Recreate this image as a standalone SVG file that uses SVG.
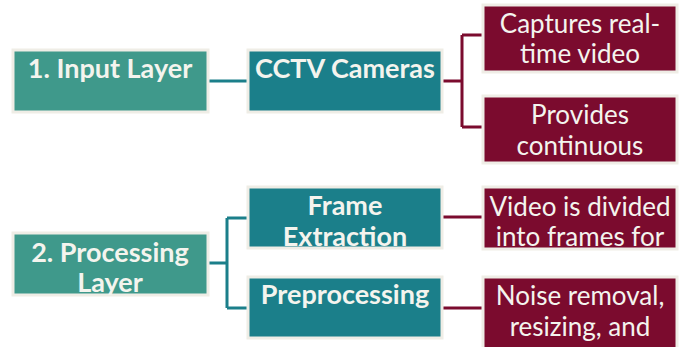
<svg xmlns="http://www.w3.org/2000/svg" width="685" height="347" viewBox="0 0 685 347">
  <style>
    .box { stroke: #efede6; stroke-width: 3; }
    .lvl { fill: #3f998b; }
    .sub { fill: #1b7f8a; }
    .det { fill: #7b0b2e; }
    .tb { font-family: Lato, "Open Sans", sans-serif; font-weight: bold; font-size: 27px; fill: #f4f4ee; text-anchor: middle; }
    .tr { font-family: Lato, "Open Sans", sans-serif; font-size: 26px; fill: #f4f4ee; text-anchor: middle; }
    .ct { fill: none; stroke: #1b7f8a; stroke-width: 3; }
    .cm { fill: none; stroke: #7b0b2e; stroke-width: 3; }
  </style>
  <defs>
    <clipPath id="c-input"><rect x="13" y="50" width="195" height="62"/></clipPath>
    <clipPath id="c-cctv"><rect x="248" y="50" width="194" height="62"/></clipPath>
    <clipPath id="c-cap"><rect x="483" y="5" width="194" height="67"/></clipPath>
    <clipPath id="c-prov"><rect x="483" y="96" width="194" height="67"/></clipPath>
    <clipPath id="c-proc"><rect x="13" y="233" width="195" height="62"/></clipPath>
    <clipPath id="c-frame"><rect x="248" y="187" width="194" height="61"/></clipPath>
    <clipPath id="c-pre"><rect x="248" y="277" width="194" height="61"/></clipPath>
    <clipPath id="c-vid"><rect x="483" y="187" width="194" height="62"/></clipPath>
    <clipPath id="c-noise"><rect x="483" y="277" width="194" height="72"/></clipPath>
  </defs>
  <rect width="685" height="347" fill="#ffffff"/>

  <g id="connectors">
    <path class="ct" d="M207 81 H248"/>
    <path class="cm" d="M442 81 H462 M462 35 V127 M462 35 H483 M462 127 H483"/>
    <path class="ct" d="M208 263 H227 M227 218 V308 M227 218 H248 M227 308 H248"/>
    <path class="cm" d="M442 217 H483 M442 308 H483"/>
  </g>

  <g id="input-layer">
    <rect class="box lvl" x="13" y="50" width="195" height="62"/>
    <g clip-path="url(#c-input)"><text class="tb" x="110" y="78">1. Input Layer</text></g>
  </g>
  <g id="cctv-cameras">
    <rect class="box sub" x="248" y="50" width="194" height="62"/>
    <g clip-path="url(#c-cctv)"><text class="tb" x="345" y="78">CCTV Cameras</text></g>
  </g>
  <g id="captures">
    <rect class="box det" x="483" y="5" width="194" height="67"/>
    <g clip-path="url(#c-cap)"><text class="tr" x="580" y="33">Captures real-</text><text class="tr" x="580" y="63">time video</text></g>
  </g>
  <g id="provides">
    <rect class="box det" x="483" y="96" width="194" height="67"/>
    <g clip-path="url(#c-prov)"><text class="tr" x="580" y="124">Provides</text><text class="tr" x="580" y="155">continuous</text></g>
  </g>
  <g id="processing-layer">
    <rect class="box lvl" x="13" y="233" width="195" height="62"/>
    <g clip-path="url(#c-proc)"><text class="tb" x="110" y="262">2. Processing</text><text class="tb" x="110" y="292">Layer</text></g>
  </g>
  <g id="frame-extraction">
    <rect class="box sub" x="248" y="187" width="194" height="61"/>
    <g clip-path="url(#c-frame)"><text class="tb" x="345" y="215">Frame</text><text class="tb" x="345" y="246">Extraction</text></g>
  </g>
  <g id="preprocessing">
    <rect class="box sub" x="248" y="277" width="194" height="61"/>
    <g clip-path="url(#c-pre)"><text class="tb" x="345" y="304">Preprocessing</text></g>
  </g>
  <g id="video-divided">
    <rect class="box det" x="483" y="187" width="194" height="62"/>
    <g clip-path="url(#c-vid)"><text class="tr" x="580" y="216">Video is divided</text><text class="tr" x="580" y="246">into frames for</text></g>
  </g>
  <g id="noise-removal">
    <rect class="box det" x="483" y="277" width="194" height="72"/>
    <g clip-path="url(#c-noise)"><text class="tr" x="580" y="305">Noise removal,</text><text class="tr" x="580" y="336">resizing, and</text></g>
  </g>
</svg>
